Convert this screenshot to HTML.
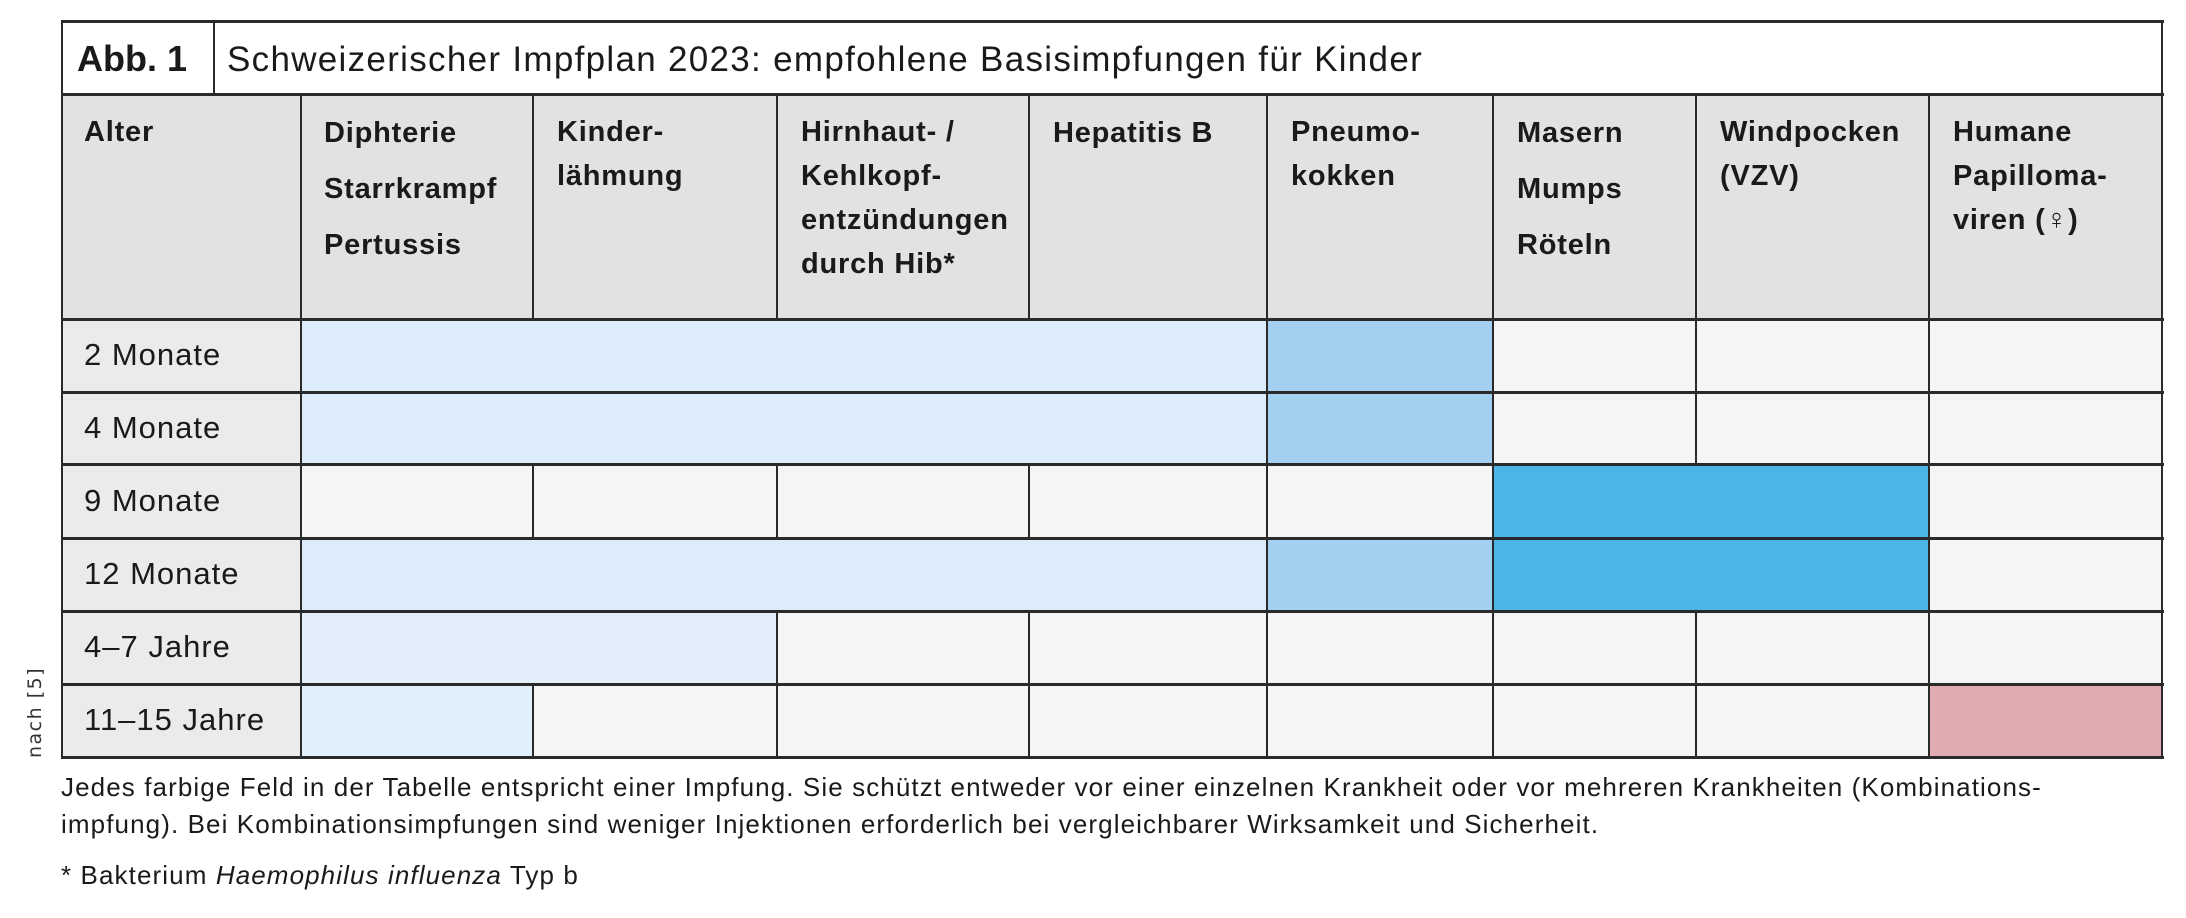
<!DOCTYPE html>
<html><head><meta charset="utf-8"><style>
html,body{margin:0;padding:0;background:#fff;}
body{width:2186px;height:918px;position:relative;overflow:hidden;font-family:"Liberation Sans",sans-serif;color:#1a1a1a;}
.f{position:absolute;}
.h{position:absolute;height:3px;background:#2a2a2a;}
.v{position:absolute;width:2px;background:#2a2a2a;}
.t{position:absolute;white-space:nowrap;}
.hd{font-weight:bold;font-size:29px;line-height:56px;letter-spacing:0.8px;}
.hd2{top:110px !important;line-height:44px;}
.rl{font-size:31px;letter-spacing:1px;}
.cap{font-size:26px;letter-spacing:1.1px;}
</style></head><body>
<div class="f" style="left:61px;top:21px;width:2101px;height:73px;background:#fff"></div>
<div class="t" style="left:77px;top:38px;font-size:36px;font-weight:bold">Abb. 1</div>
<div class="t" style="left:227px;top:40px;font-size:35px;letter-spacing:1.3px">Schweizerischer Impfplan 2023: empfohlene Basisimpfungen für Kinder</div>
<div class="f" style="left:61px;top:94px;width:2101px;height:225px;background:#e2e2e2"></div>
<div class="t hd" style="left:84px;top:104px">Alter</div>
<div class="t hd" style="left:324px;top:105px">Diphterie<br>Starrkrampf<br>Pertussis</div>
<div class="t hd hd2" style="left:557px">Kinder-<br>lähmung</div>
<div class="t hd hd2" style="left:801px">Hirnhaut- /<br>Kehlkopf-<br>entzündungen<br>durch Hib*</div>
<div class="t hd" style="left:1053px;top:105px">Hepatitis B</div>
<div class="t hd hd2" style="left:1291px">Pneumo-<br>kokken</div>
<div class="t hd" style="left:1517px;top:105px">Masern<br>Mumps<br>Röteln</div>
<div class="t hd hd2" style="left:1720px">Windpocken<br>(VZV)</div>
<div class="t hd hd2" style="left:1953px">Humane<br>Papilloma-<br>viren (♀)</div>
<div class="f" style="left:61px;top:319px;width:240px;height:438px;background:#ebebeb"></div>
<div class="t rl" style="left:84px;top:337px">2 Monate</div>
<div class="t rl" style="left:84px;top:410px">4 Monate</div>
<div class="t rl" style="left:84px;top:483px">9 Monate</div>
<div class="t rl" style="left:84px;top:556px">12 Monate</div>
<div class="t rl" style="left:84px;top:629px">4–7 Jahre</div>
<div class="t rl" style="left:84px;top:702px">11–15 Jahre</div>
<div class="f" style="left:301px;top:319px;width:1861px;height:438px;background:#f5f5f5"></div>
<div class="f" style="left:301px;top:319px;width:966px;height:145px;background:#ddecfa"></div>
<div class="f" style="left:1267px;top:319px;width:226px;height:145px;background:#a3d0f0"></div>
<div class="f" style="left:1493px;top:464px;width:436px;height:147px;background:#4cb5e7"></div>
<div class="f" style="left:301px;top:538px;width:966px;height:73px;background:#ddecfa"></div>
<div class="f" style="left:1267px;top:538px;width:226px;height:73px;background:#a3d0f0"></div>
<div class="f" style="left:301px;top:611px;width:476px;height:73px;background:#e2effb"></div>
<div class="f" style="left:301px;top:684px;width:232px;height:73px;background:#dff0fc"></div>
<div class="f" style="left:1929px;top:684px;width:233px;height:73px;background:#e0abb1"></div>
<div class="h" style="left:61px;top:20px;width:2103px"></div>
<div class="h" style="left:61px;top:93px;width:2103px"></div>
<div class="h" style="left:61px;top:318px;width:2103px"></div>
<div class="h" style="left:61px;top:391px;width:2103px"></div>
<div class="h" style="left:61px;top:463px;width:2103px"></div>
<div class="h" style="left:61px;top:537px;width:2103px"></div>
<div class="h" style="left:61px;top:610px;width:2103px"></div>
<div class="h" style="left:61px;top:683px;width:2103px"></div>
<div class="h" style="left:61px;top:756px;width:2103px"></div>
<div class="v" style="left:61px;top:21px;height:737px"></div>
<div class="v" style="left:2161px;top:21px;height:737px"></div>
<div class="v" style="left:213px;top:21px;height:73px"></div>
<div class="v" style="left:300px;top:94px;height:664px"></div>
<div class="v" style="left:532px;top:94px;height:225px"></div>
<div class="v" style="left:776px;top:94px;height:225px"></div>
<div class="v" style="left:1028px;top:94px;height:225px"></div>
<div class="v" style="left:1266px;top:94px;height:225px"></div>
<div class="v" style="left:1492px;top:94px;height:225px"></div>
<div class="v" style="left:1695px;top:94px;height:225px"></div>
<div class="v" style="left:1928px;top:94px;height:225px"></div>
<div class="v" style="left:1266px;top:319px;height:145px"></div>
<div class="v" style="left:1492px;top:319px;height:145px"></div>
<div class="v" style="left:1695px;top:319px;height:145px"></div>
<div class="v" style="left:1928px;top:319px;height:145px"></div>
<div class="v" style="left:532px;top:464px;height:74px"></div>
<div class="v" style="left:776px;top:464px;height:74px"></div>
<div class="v" style="left:1028px;top:464px;height:74px"></div>
<div class="v" style="left:1266px;top:464px;height:74px"></div>
<div class="v" style="left:1492px;top:464px;height:147px"></div>
<div class="v" style="left:1928px;top:464px;height:147px"></div>
<div class="v" style="left:1266px;top:538px;height:73px"></div>
<div class="v" style="left:776px;top:611px;height:146px"></div>
<div class="v" style="left:1028px;top:611px;height:146px"></div>
<div class="v" style="left:1266px;top:611px;height:146px"></div>
<div class="v" style="left:1492px;top:611px;height:146px"></div>
<div class="v" style="left:1695px;top:611px;height:146px"></div>
<div class="v" style="left:1928px;top:611px;height:146px"></div>
<div class="v" style="left:532px;top:684px;height:73px"></div>
<div class="t cap" style="left:61px;top:772px">Jedes farbige Feld in der Tabelle entspricht einer Impfung. Sie schützt entweder vor einer einzelnen Krankheit oder vor mehreren Krankheiten (Kombinations-</div>
<div class="t cap" style="left:61px;top:809px">impfung). Bei Kombinationsimpfungen sind weniger Injektionen erforderlich bei vergleichbarer Wirksamkeit und Sicherheit.</div>
<div class="t cap" style="left:61px;top:860px">* Bakterium <i>Haemophilus influenza</i> Typ b</div>
<div class="t" style="left:24px;top:758px;transform:rotate(-90deg);transform-origin:0 0;font-family:'DejaVu Sans',sans-serif;font-size:19px;letter-spacing:1.5px;color:#333">nach [5]</div>
</body></html>
